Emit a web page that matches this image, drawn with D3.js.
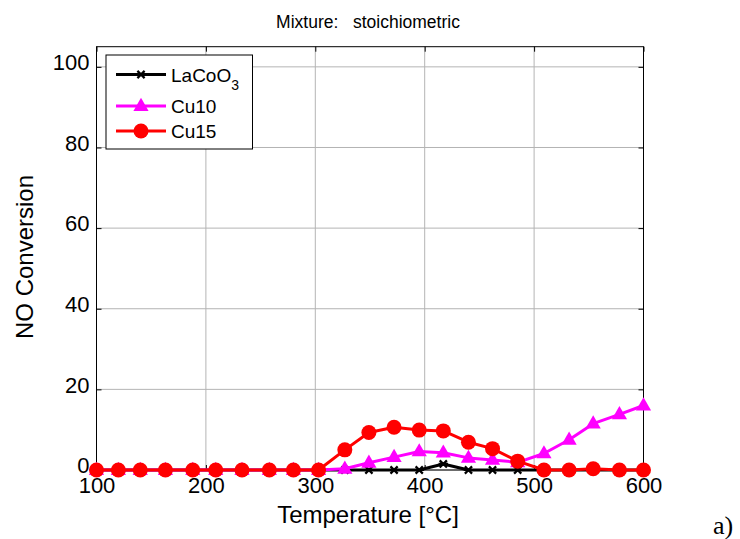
<!DOCTYPE html>
<html>
<head>
<meta charset="utf-8">
<script src="https://cdn.jsdelivr.net/npm/d3@7"></script>
<style>
  html, body { margin: 0; padding: 0; background: #fff; }
  svg { display: block; font-family: "Liberation Sans", Arial, sans-serif; }
</style>
</head>
<body>
<svg id="chart" width="740" height="539"></svg>
<script>
// Reaction temperatures (°C)
const temps = [100, 120, 140, 163, 188, 209, 233, 258, 280, 303, 327, 349, 372, 395, 417, 440, 462, 485, 509, 532, 554, 578, 600];
// NO conversion (%) for each catalyst
const lacoo3 = [0, 0, 0, 0, 0, 0, 0, 0, 0, 0, 0, 0, 0, 0, 1.5, 0, 0, 0, 0, 0, 0, 0, 0];
const cu10   = [0, 0, 0, 0, 0, 0, 0, 0, 0, 0, 0.3, 1.8, 3.2, 4.6, 4.3, 3.0, 2.5, 1.9, 4.1, 7.5, 11.5, 13.8, 16.0];
const cu15   = [0, 0, 0, 0, 0, 0, 0, 0, 0, 0, 5.0, 9.3, 10.6, 9.9, 9.7, 6.9, 5.3, 2.2, 0, 0, 0.3, 0, 0];
const xTicks = [100, 200, 300, 400, 500, 600];
const yTicks = [0, 20, 40, 60, 80, 100];

const series = [
  { name: "LaCoO", sub: "3", values: lacoo3, color: "#000000", marker: "star" },
  { name: "Cu10", sub: "", values: cu10, color: "#ff00ff", marker: "triangle" },
  { name: "Cu15", sub: "", values: cu15, color: "#ff0000", marker: "circle" }
];

const svg = d3.select("#chart");
const L = 96.5, R = 643.5, T = 46.7, B = 470;

const x = d3.scaleLinear().domain([100, 600]).range([L, R]);
const y = d3.scaleLinear().domain([0, 105]).range([B, T]);

// grid
const grid = svg.append("g").attr("stroke", "#b4b4b4").attr("stroke-width", 1);
xTicks.forEach(t => grid.append("line")
  .attr("x1", x(t)).attr("x2", x(t)).attr("y1", T).attr("y2", B));
yTicks.forEach(t => grid.append("line")
  .attr("x1", L).attr("x2", R).attr("y1", y(t)).attr("y2", y(t)));

// axes with inward ticks, boxed
const fs = 22;
const axBottom = svg.append("g").attr("transform", `translate(0,${B})`)
  .call(d3.axisBottom(x).tickValues(xTicks).tickSize(-5).tickPadding(12).tickFormat(d3.format("d")));
const axLeft = svg.append("g").attr("transform", `translate(${L},0)`)
  .call(d3.axisLeft(y).tickValues(yTicks).tickSize(-5).tickPadding(7).tickFormat(d3.format("d")));
const axTop = svg.append("g").attr("transform", `translate(0,${T})`)
  .call(d3.axisTop(x).tickValues(xTicks).tickSize(-5).tickFormat(""));
const axRight = svg.append("g").attr("transform", `translate(${R},0)`)
  .call(d3.axisRight(y).tickValues(yTicks).tickSize(-5).tickFormat(""));
[axBottom, axLeft, axTop, axRight].forEach(g => {
  g.select(".domain").remove();
  g.selectAll("line").attr("stroke", "#000");
  g.selectAll("text").attr("fill", "#000").attr("font-size", fs)
    .attr("font-family", "Liberation Sans, Arial, sans-serif");
});
axBottom.selectAll("text").attr("dy", "0.5em");
axLeft.selectAll("text").attr("dy", "0.12em");

svg.append("rect").attr("x", L).attr("y", T).attr("width", R - L).attr("height", B - T)
  .attr("fill", "none").attr("stroke", "#000").attr("stroke-width", 1);

// marker drawing
function drawMarker(g, kind, cx, cy, color) {
  if (kind === "circle") {
    g.append("circle").attr("cx", cx).attr("cy", cy).attr("r", 7.5).attr("fill", color);
  } else if (kind === "triangle") {
    g.append("path").attr("d", d3.symbol(d3.symbolTriangle, 100)())
      .attr("transform", `translate(${cx},${cy + 0.5})`).attr("fill", color);
  } else {
    const s = 3.6;
    g.append("path")
      .attr("d", `M${-s},${-s}L${s},${s}M${-s},${s}L${s},${-s}M${-s * 1.3},0L${s * 1.3},0`)
      .attr("transform", `translate(${cx},${cy})`)
      .attr("stroke", color).attr("stroke-width", 2.2).attr("fill", "none");
  }
}

const line = d3.line().x((d, i) => x(temps[i])).y(d => y(d));
series.forEach(s => {
  const g = svg.append("g");
  g.append("path").datum(s.values).attr("d", line)
    .attr("fill", "none").attr("stroke", s.color).attr("stroke-width", 3)
    .attr("stroke-linejoin", "round");
  s.values.forEach((v, i) => drawMarker(g, s.marker, x(temps[i]), y(v), s.color));
});

// legend
const lg = svg.append("g");
lg.append("rect").attr("x", 106).attr("y", 55).attr("width", 146.5).attr("height", 94)
  .attr("fill", "#fff").attr("stroke", "#000").attr("stroke-width", 1);
const rowY = [74.5, 106, 131];
series.forEach((s, i) => {
  const ry = rowY[i];
  lg.append("line").attr("x1", 116).attr("x2", 166).attr("y1", ry).attr("y2", ry)
    .attr("stroke", s.color).attr("stroke-width", 3);
  drawMarker(lg, s.marker, 141, ry, s.color);
  const t = lg.append("text").attr("x", 171).attr("y", ry + 7).attr("font-size", 19).attr("fill", "#000");
  t.append("tspan").text(s.name);
  if (s.sub) t.append("tspan").attr("dy", 8).attr("font-size", 14).text(s.sub);
});

// titles
svg.append("text").attr("x", 368).attr("y", 28).attr("text-anchor", "middle")
  .attr("font-size", 17.5).attr("fill", "#000").attr("xml:space", "preserve").text("Mixture:   stoichiometric");
svg.append("text").attr("x", 368).attr("y", 523).attr("text-anchor", "middle")
  .attr("font-size", 24).attr("fill", "#000").text("Temperature [°C]");
svg.append("text").attr("transform", "translate(33,257) rotate(-90)").attr("text-anchor", "middle")
  .attr("font-size", 24).attr("fill", "#000").text("NO Conversion");
svg.append("text").attr("x", 713).attr("y", 534)
  .attr("font-family", "Liberation Serif, Times New Roman, serif")
  .attr("font-size", 26).attr("fill", "#000").text("a)");
</script>
</body>
</html>
